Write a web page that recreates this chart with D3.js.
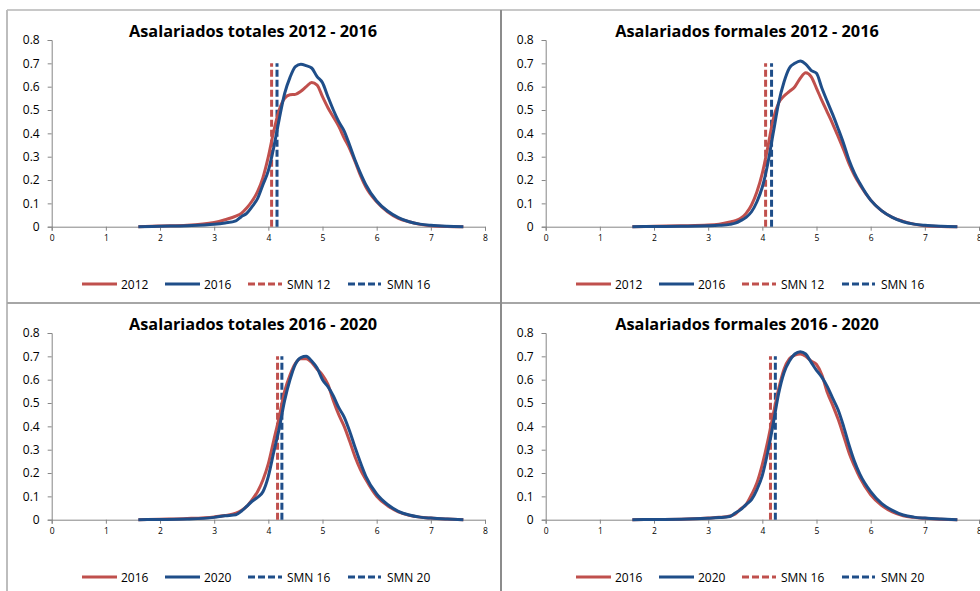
<!DOCTYPE html>
<html><head><meta charset="utf-8">
<script src="https://cdn.jsdelivr.net/npm/d3@7"></script>
<style>
body{margin:0;background:#fff;}
svg{display:block;font-family:"Open Sans",sans-serif;}
</style></head>
<body><svg id="c" width="980" height="591"></svg>
<script>
// ---------- DATA ----------
const xGrid = [1.6,2.0,2.5,3.0,3.2,3.4,3.5,3.6,3.7,3.8,3.9,4.0,4.1,4.2,4.3,4.4,4.5,4.6,4.7,4.8,4.9,5.0,5.1,5.2,5.3,5.4,5.5,5.6,5.7,5.8,6.0,6.2,6.4,6.6,6.8,7.0,7.3,7.6];

const totales2012a = [0,0.003,0.006,0.018,0.03,0.045,0.057,0.08,0.11,0.15,0.21,0.30,0.41,0.50,0.55,0.565,0.567,0.58,0.60,0.618,0.607,0.557,0.51,0.47,0.43,0.38,0.335,0.28,0.22,0.17,0.107,0.064,0.036,0.021,0.01,0.004,0.001,0];
const totales2016a = [0,0.002,0.004,0.01,0.016,0.025,0.043,0.057,0.086,0.12,0.18,0.24,0.34,0.46,0.57,0.64,0.686,0.696,0.69,0.68,0.643,0.617,0.557,0.50,0.45,0.41,0.35,0.286,0.23,0.18,0.11,0.067,0.039,0.021,0.011,0.006,0.002,0];
const formales2012a = [0,0.002,0.004,0.007,0.011,0.02,0.026,0.036,0.057,0.093,0.15,0.23,0.34,0.46,0.53,0.56,0.58,0.60,0.636,0.66,0.643,0.593,0.54,0.49,0.44,0.386,0.33,0.27,0.22,0.18,0.114,0.069,0.04,0.023,0.011,0.004,0.001,0];
const formales2016a = [0,0.001,0.002,0.004,0.006,0.01,0.015,0.026,0.04,0.064,0.107,0.17,0.27,0.40,0.53,0.62,0.68,0.70,0.71,0.697,0.67,0.657,0.593,0.536,0.48,0.42,0.357,0.286,0.23,0.186,0.114,0.069,0.04,0.021,0.011,0.006,0.002,0];
const totales2016b = [0,0.002,0.005,0.012,0.018,0.028,0.039,0.057,0.086,0.12,0.17,0.24,0.34,0.44,0.55,0.62,0.67,0.69,0.69,0.674,0.645,0.62,0.58,0.51,0.45,0.40,0.337,0.27,0.215,0.172,0.1,0.06,0.034,0.019,0.011,0.007,0.003,0];
const totales2020b = [0,0.001,0.003,0.01,0.017,0.021,0.036,0.057,0.079,0.096,0.12,0.186,0.29,0.39,0.51,0.60,0.667,0.695,0.70,0.68,0.65,0.60,0.57,0.53,0.48,0.44,0.38,0.31,0.245,0.186,0.11,0.065,0.036,0.02,0.011,0.007,0.003,0];
const formales2016b = [0,0.001,0.002,0.007,0.01,0.016,0.024,0.046,0.065,0.107,0.158,0.237,0.337,0.45,0.56,0.645,0.69,0.705,0.71,0.70,0.68,0.665,0.62,0.545,0.49,0.43,0.36,0.287,0.23,0.18,0.107,0.062,0.033,0.017,0.01,0.006,0.002,0];
const formales2020b = [0,0.001,0.002,0.006,0.009,0.014,0.029,0.043,0.065,0.086,0.129,0.19,0.29,0.41,0.54,0.63,0.68,0.71,0.72,0.71,0.675,0.64,0.61,0.57,0.52,0.47,0.40,0.32,0.25,0.195,0.12,0.07,0.04,0.02,0.011,0.007,0.003,0];

const titles = ["Asalariados totales 2012 - 2016","Asalariados formales 2012 - 2016","Asalariados totales 2016 - 2020","Asalariados formales 2016 - 2020"];
const seriesA = [totales2012a, formales2012a, totales2016b, formales2016b];
const seriesB = [totales2016a, formales2016a, totales2020b, formales2020b];
const smnA = [4.06, 4.06, 4.17, 4.15];
const smnB = [4.16, 4.17, 4.25, 4.24];
const legendLabels = [["2012","2016","SMN 12","SMN 16"],["2012","2016","SMN 12","SMN 16"],["2016","2020","SMN 16","SMN 20"],["2016","2020","SMN 16","SMN 20"]];
const xTicks = [0,1,2,3,4,5,6,7,8];
const yTicks = [0,0.1,0.2,0.3,0.4,0.5,0.6,0.7,0.8];
const smnTop = 0.7;

// ---------- STYLE ----------
const RED = "#c0504d", BLUE = "#1f4e89";
const legendColors = [[RED,BLUE,RED,BLUE],[RED,BLUE,RED,BLUE],[RED,BLUE,BLUE,BLUE],[RED,BLUE,RED,BLUE]];
const panelOrigins = [[7,10],[501,10],[7,303],[501,303]];

const svg = d3.select("#c");

// frame lines
svg.append("line").attr("x1",7).attr("x2",980).attr("y1",10).attr("y2",10).attr("stroke","#c8c8c8").attr("stroke-width",2);
svg.append("line").attr("x1",7).attr("x2",7).attr("y1",10).attr("y2",591).attr("stroke","#bdbdbd").attr("stroke-width",2);
svg.append("line").attr("x1",7).attr("x2",980).attr("y1",303).attr("y2",303).attr("stroke","#a6a6a6").attr("stroke-width",2);
svg.append("line").attr("x1",501).attr("x2",501).attr("y1",10).attr("y2",591).attr("stroke","#8c8c8c").attr("stroke-width",2);

panelOrigins.forEach(([px,py],i)=>{
  const g = svg.append("g").attr("transform",`translate(${px},${py})`);
  const x = d3.scaleLinear().domain([0,8]).range([44.7,478]);
  const y = d3.scaleLinear().domain([0,0.8]).range([216.7,30]);

  // title
  g.append("text").attr("x",246).attr("y",27).attr("text-anchor","middle")
    .attr("font-weight","bold").attr("font-size",16.3).attr("fill","#000").text(titles[i]);

  // y axis
  const ya = g.append("g").attr("transform",`translate(${x(0)},0)`)
    .call(d3.axisLeft(y).tickValues(yTicks).tickSize(4).tickPadding(8).tickFormat(d=>d===0?"0":d3.format(".1f")(d)));
  ya.select(".domain").attr("stroke","#868686");
  ya.selectAll(".tick line").attr("stroke","#868686");
  ya.selectAll("text").attr("font-size",12).attr("fill","#000").attr("font-family","Open Sans");

  // x axis
  const xa = g.append("g").attr("transform",`translate(0,${y(0)})`)
    .call(d3.axisBottom(x).tickValues(xTicks).tickSize(4).tickPadding(4).tickFormat(d3.format("d")));
  xa.select(".domain").attr("stroke","#868686");
  xa.selectAll(".tick line").attr("stroke","#868686");
  xa.selectAll("text").attr("font-size",8.5).attr("fill","#000").attr("font-family","Open Sans");

  const line = d3.line().x((d,k)=>x(xGrid[k])).y(d=>y(d)).curve(d3.curveMonotoneX);

  // SMN dashed lines
  [[smnA[i],RED],[smnB[i],BLUE]].forEach(([v,c])=>{
    g.append("line").attr("x1",x(v)).attr("x2",x(v)).attr("y1",y(0)).attr("y2",y(smnTop))
      .attr("stroke",c).attr("stroke-width",3).attr("stroke-dasharray","7,3");
  });

  // curves
  g.append("path").datum(seriesA[i]).attr("d",line).attr("fill","none").attr("stroke",RED).attr("stroke-width",3).attr("stroke-linejoin","round");
  g.append("path").datum(seriesB[i]).attr("d",line).attr("fill","none").attr("stroke",BLUE).attr("stroke-width",3).attr("stroke-linejoin","round");

  // legend
  const lx = [[75,110,114],[158,193,197],[241,275,280],[341,374,380]];
  legendLabels[i].forEach((lab,k)=>{
    g.append("line").attr("x1",lx[k][0]).attr("x2",lx[k][1]).attr("y1",274).attr("y2",274)
      .attr("stroke",legendColors[i][k]).attr("stroke-width",3)
      .attr("stroke-dasharray",k>=2?"7,3":null);
    g.append("text").attr("x",lx[k][2]).attr("y",278.5).attr("font-size",12).attr("fill","#000").text(lab);
  });
});
</script></body></html>
